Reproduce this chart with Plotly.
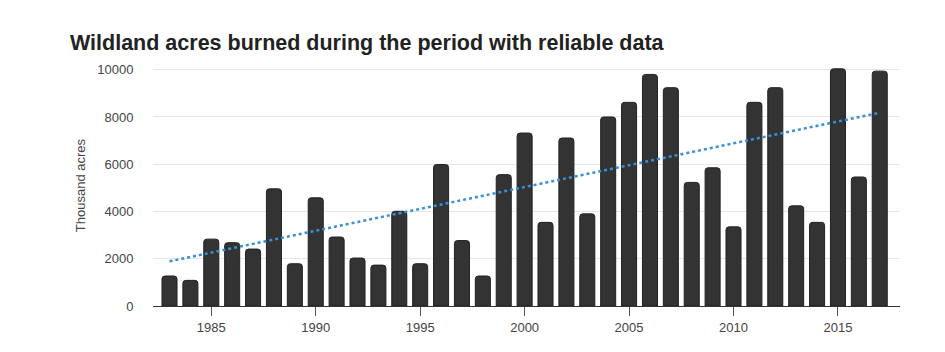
import plotly.graph_objects as go

years = list(range(1983, 2018))
acres = [1270, 1085, 2830, 2680, 2410, 4960, 1790, 4580, 2920, 2030,
         1730, 4010, 1790, 5990, 2770, 1270, 5560, 7320, 3540, 7110,
         3900, 8000, 8620, 9800, 9240, 5230, 5850, 3350, 8620, 9240,
         4240, 3540, 10040, 5460, 9940]
trend_years = [1983, 2017]
trend_vals = [1890, 8180]
x_ticks = [1985, 1990, 1995, 2000, 2005, 2010, 2015]
y_ticks = [0, 2000, 4000, 6000, 8000, 10000]
y_tick_text = ["0", "2000", "4000", "6000", "8000", "10000"]

fig = go.Figure()
fig.add_trace(go.Bar(
    x=years, y=acres, width=0.72,
    marker=dict(color="#333333", line=dict(color="#222222", width=1), cornerradius=3),
    showlegend=False,
))
fig.add_trace(go.Scatter(
    x=trend_years, y=trend_vals, mode="lines",
    line=dict(color="#3a8fd6", width=2.5, dash="dot"),
    showlegend=False,
))

fig.update_layout(
    width=945, height=352,
    margin=dict(l=153, r=45, t=65, b=46),
    paper_bgcolor="white", plot_bgcolor="white",
    font=dict(family="Liberation Sans, Arial, sans-serif", size=13, color="#444444"),
    title=dict(
        text="<b>Wildland acres burned during the period with reliable data</b>",
        x=70/945, xanchor="left", y=1-42/352, yanchor="middle",
        font=dict(size=21.5, color="#222222"),
    ),
    bargap=0.28,
    xaxis=dict(
        range=[1982.21, 2017.97], tickvals=x_ticks, showgrid=False,
        showline=True, linecolor="#333333", linewidth=1,
        ticks="outside", ticklen=9, tickcolor="#555555", tickwidth=1,
        zeroline=False, tickfont=dict(size=13, color="#444444"),
    ),
    yaxis=dict(
        range=[0, 10200], tickvals=y_ticks, ticktext=y_tick_text,
        showgrid=True, gridcolor="#e6e6e6",
        zeroline=False, showline=False,
        ticks="outside", ticklen=16, tickcolor="rgba(0,0,0,0)",
        tickfont=dict(size=13, color="#444444"),
        title=dict(text="Thousand acres", standoff=8, font=dict(size=13, color="#444444")),
    ),
)

fig.write_html("out.html")
